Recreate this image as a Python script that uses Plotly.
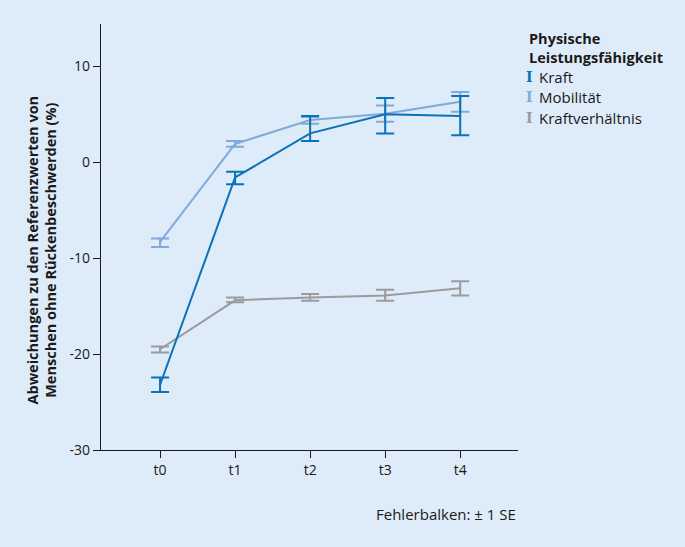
import plotly.graph_objects as go

times = ["t0", "t1", "t2", "t3", "t4"]
y_ticks = [10, 0, -10, -20, -30]
y_ticklabels = ["10", "0", "-10", "-20", "-30"]
kraft = [-23.2, -1.6, 3.0, 5.0, 4.8]
kraft_up = [0.75, 0.6, 1.8, 1.7, 2.1]
kraft_dn = [0.75, 0.7, 0.8, 2.0, 2.0]
mob = [-8.3, 1.9, 4.4, 5.05, 6.3]
mob_up = [0.35, 0.3, 0.3, 0.85, 1.0]
mob_dn = [0.55, 0.3, 0.4, 0.85, 1.05]
kv = [-19.5, -14.4, -14.1, -13.9, -13.15]
kv_up = [0.3, 0.3, 0.35, 0.6, 0.75]
kv_dn = [0.35, 0.2, 0.35, 0.55, 0.75]

names = ["Kraft", "Mobilität", "Kraftverhältnis"]
colors = ["#0b71b8", "#80a9dc", "#9b9b9b"]
series = [(kraft, kraft_up, kraft_dn), (mob, mob_up, mob_dn), (kv, kv_up, kv_dn)]

bg = "#deebf8"
font = "Open Sans"

fig = go.Figure()
order = [2, 1, 0]
for i in order:
    y, up, dn = series[i]
    fig.add_trace(go.Scatter(
        x=list(range(len(times))), y=y, mode="lines", name=names[i],
        line=dict(color=colors[i], width=2),
        error_y=dict(type="data", symmetric=False, array=up, arrayminus=dn,
                     color=colors[i], thickness=2, width=9),
        showlegend=False,
    ))

fig.update_layout(
    width=685, height=547,
    paper_bgcolor=bg, plot_bgcolor=bg,
    margin=dict(l=101, r=167, t=24, b=97),
    font=dict(family=font, size=14, color="#1a1a1a"),
    showlegend=False,
    xaxis=dict(range=[-0.787, 4.77], tickmode="array", tickvals=list(range(5)),
               ticktext=times, showgrid=False, zeroline=False, showline=True,
               linecolor="#1a1a1a", linewidth=1.2, ticks="outside", ticklen=7,
               tickcolor="#1a1a1a", tickfont=dict(size=14)),
    yaxis=dict(range=[-30, 14.4], tickmode="array", tickvals=y_ticks, ticktext=y_ticklabels,
               showgrid=False,
               zeroline=False, showline=True, linecolor="#1a1a1a", linewidth=1.2,
               ticks="outside", ticklen=7, tickcolor="#1a1a1a", tickfont=dict(size=14)),
)

# Y-axis title as annotation (slightly below axis centre, as in reference)
fig.add_annotation(xref="paper", yref="paper", x=-0.1427, y=0.4695, xanchor="center", yanchor="middle",
                   textangle=-90, showarrow=False,
                   text="<b>Abweichungen zu den Referenzwerten von<br>Menschen ohne Rückenbeschwerden (%)</b>",
                   font=dict(size=14.5))

# Legend (drawn as annotations)
fig.add_annotation(xref="paper", yref="paper", x=1.0216, y=0.993, xanchor="left", yanchor="top",
                   align="left", showarrow=False,
                   text="<b>Physische<br>Leistungsfähigkeit</b>", font=dict(size=14.5))
for k, i in enumerate([0, 1, 2]):
    yy = 0.876 - k * 0.0485
    fig.add_annotation(xref="paper", yref="paper", x=1.0144, y=yy, xanchor="left", yanchor="middle",
                       showarrow=False, text="<b>I</b>",
                       font=dict(size=14, color=colors[i], family="DejaVu Serif"))
    fig.add_annotation(xref="paper", yref="paper", x=1.0456, y=yy, xanchor="left", yanchor="middle",
                       showarrow=False, text=names[i], font=dict(size=15))

fig.add_annotation(xref="paper", yref="paper", x=1.0, y=-0.150, xanchor="right", yanchor="middle",
                   showarrow=False, text="Fehlerbalken: ± 1 SE", font=dict(size=15))

fig.write_html("out.html", config={"displayModeBar": False},
               post_script="document.body.style.margin='0';document.body.style.overflow='hidden';")
